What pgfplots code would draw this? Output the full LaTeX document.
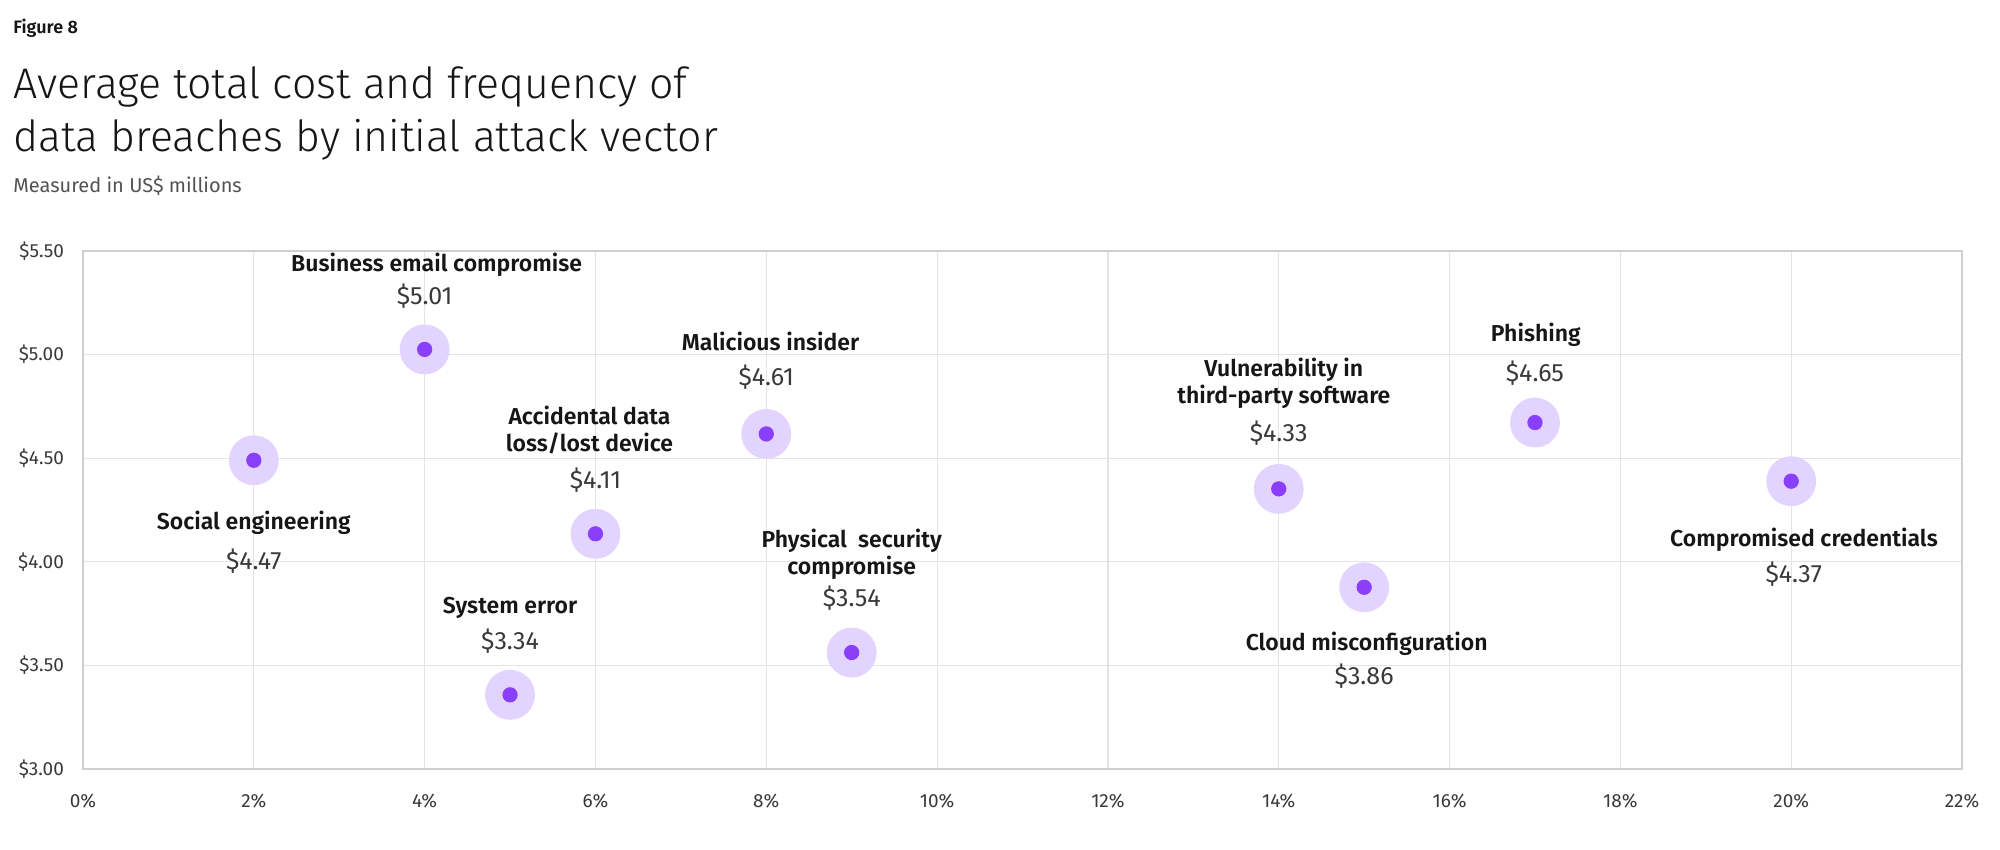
\documentclass[border=0pt]{standalone}
\usepackage{fontspec}
\setmainfont{Fira Sans}
\newfontfamily\lightfont{Fira Sans Light}
\newfontfamily\semifont{Fira Sans SemiBold}
\usepackage{pgfplots}
\pgfplotsset{compat=1.18}
\usepackage{pgfplotstable}
\definecolor{purpdark}{HTML}{8A3FFC}
\definecolor{purplight}{HTML}{E2D3FF}
\definecolor{gridc}{HTML}{E4E4E4}
\definecolor{axisc}{HTML}{CFCFCF}
\definecolor{txt}{HTML}{161616}
\definecolor{txtgray}{HTML}{393939}
\definecolor{subgray}{HTML}{525252}
\pgfplotstableread{
x y
2 4.49
4 5.025
5 3.358
6 4.135
8 4.617
9 3.562
14 4.352
15 3.877
17 4.672
20 4.389
}\pts
\tikzset{
  lbl/.style={font=\semifont\fontsize{11.5}{13.4}\selectfont, text=txt, align=center},
  val/.style={font=\fontsize{12.5}{14}\selectfont, text=txtgray},
}
\begin{document}
\begin{tikzpicture}
\useasboundingbox (0pt,0pt) rectangle (1000pt,425pt);
\node[anchor=west, inner sep=0, font=\semifont\fontsize{9}{10}\selectfont, text=txt] at (6.5pt,411pt) {Figure 8};
\node[anchor=base west, inner sep=0, font=\lightfont\fontsize{21.4}{26}\selectfont, text=txt] at (6.5pt,375.9pt) {Average total cost and frequency of};
\node[anchor=base west, inner sep=0, font=\lightfont\fontsize{21.4}{26}\selectfont, text=txt] at (6.5pt,349.1pt) {data breaches by initial attack vector};
\node[anchor=west, inner sep=0, font=\fontsize{10}{12}\selectfont, text=subgray] at (6.5pt,332pt) {Measured in US\$ millions};
\begin{axis}[
  at={(41.5pt,40.5pt)}, anchor=south west,
  scale only axis, width=939.5pt, height=259pt,
  xmin=0, xmax=22, ymin=3, ymax=5.5,
  xtick={0,2,4,6,8,10,12,14,16,18,20,22},
  xticklabels={0\%,2\%,4\%,6\%,8\%,10\%,12\%,14\%,16\%,18\%,20\%,22\%},
  ytick={3,3.5,4,4.5,5,5.5},
  yticklabels={\$3.00,\$3.50,\$4.00,\$4.50,\$5.00,\$5.50},
  grid=major, grid style={gridc, line width=0.6pt},
  axis line style={axisc, line width=0.8pt},
  tick style={draw=none},
  ticklabel style={font=\fontsize{9.5}{11}\selectfont, text=txtgray},
  xticklabel style={anchor=center, yshift=-16pt},
  yticklabel style={anchor=east, xshift=-6pt},
  clip=false,
]
\addplot[only marks, color=purplight, mark=*, mark size=12.25pt, mark options={draw=purplight, fill=purplight}] table[x=x,y=y] {\pts};
\addplot[only marks, color=purpdark, mark=*, mark size=3.6pt, mark options={draw=purpdark, fill=purpdark}] table[x=x,y=y] {\pts};
\node[lbl] at (axis cs:4.14,5.432) {Business email compromise};
\node[val] at (axis cs:4.0,5.284) {\$5.01};
\node[lbl] at (axis cs:2.0,4.188) {Social engineering};
\node[val] at (axis cs:2.0,4.004) {\$4.47};
\node[lbl] at (axis cs:5.93,4.635) {Accidental data\\loss/lost device};
\node[val] at (axis cs:6.0,4.392) {\$4.11};
\node[lbl] at (axis cs:8.05,5.063) {Malicious insider};
\node[val] at (axis cs:8.0,4.890) {\$4.61};
\node[lbl] at (axis cs:5.0,3.776) {System error};
\node[val] at (axis cs:5.0,3.616) {\$3.34};
\node[lbl] at (axis cs:9.0,4.038) {Physical\ \ security\\compromise};
\node[val] at (axis cs:9.0,3.825) {\$3.54};
\node[lbl] at (axis cs:14.06,4.860) {Vulnerability in\\third-party software};
\node[val] at (axis cs:14.0,4.619) {\$4.33};
\node[lbl] at (axis cs:15.03,3.603) {Cloud misconfiguration};
\node[val] at (axis cs:15.0,3.450) {\$3.86};
\node[lbl] at (axis cs:17.01,5.094) {Phishing};
\node[val] at (axis cs:17.0,4.909) {\$4.65};
\node[lbl] at (axis cs:20.15,4.108) {Compromised credentials};
\node[val] at (axis cs:20.03,3.942) {\$4.37};
\end{axis}
\end{tikzpicture}
\end{document}
